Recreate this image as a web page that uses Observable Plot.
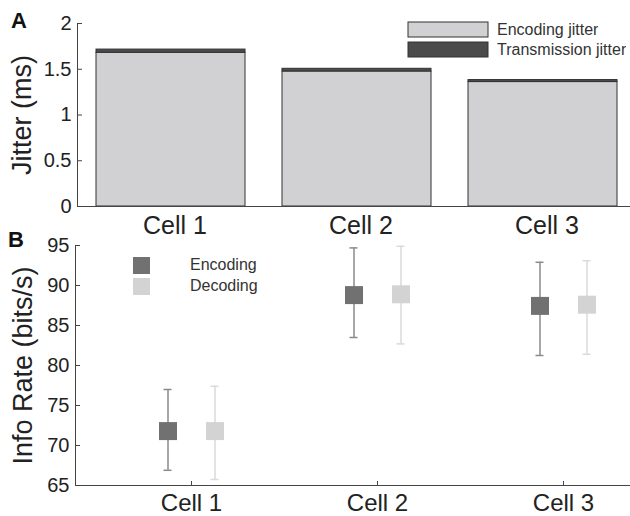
<!DOCTYPE html>
<html><head><meta charset="utf-8">
<script src="https://cdn.jsdelivr.net/npm/d3@7"></script>
<script src="https://cdn.jsdelivr.net/npm/@observablehq/plot@0.6"></script>
<style>
body{margin:0;background:#fff;}
#wrap{position:relative;width:630px;height:516px;overflow:hidden;font-family:"Liberation Sans",Arial,sans-serif;color:#222;}
.panel{position:absolute;left:0;}
.letter{position:absolute;font-weight:bold;font-size:22px;line-height:1;color:#111;}
g[aria-label="y-axis label"]{font-size:27px;}
#legA{position:absolute;left:408px;top:20px;}
#legB{position:absolute;left:133px;top:255px;}
#legA, #legA *, #legB, #legB *{font-family:"Liberation Sans",Arial,sans-serif !important;font-size:16px !important;color:#333 !important;}
#legA .lgA-swatch{line-height:19px;padding-bottom:1px;margin:0;}
#legA .lgA-swatch svg{overflow:visible;margin-right:9px;}
#legA .lgA-swatch rect{stroke:#333;stroke-width:1;}
#legB .lgB-swatch{line-height:20px;padding-bottom:1px;margin:0;}
#legB .lgB-swatch svg{margin-right:40px;}
</style></head><body>
<div id="wrap"></div>
<script>
// ---- Panel A data ----
const cells = ["Cell 1", "Cell 2", "Cell 3"];
const jitterTypes = ["Encoding jitter", "Transmission jitter"];
const encodingJitter = [1.68, 1.475, 1.36];
const transmissionJitter = [0.035, 0.03, 0.022];
const jitterTicks = [0, 0.5, 1, 1.5, 2];

// ---- Panel B data ----
const rateSeries = ["Encoding", "Decoding"];
const encMean = [71.8, 88.8, 87.45];
const encLow = [66.9, 83.5, 81.25];
const encHigh = [77.0, 94.7, 92.9];
const decMean = [71.8, 88.9, 87.6];
const decLow = [65.75, 82.7, 81.4];
const decHigh = [77.4, 94.9, 93.1];
const rateTicks = [65, 70, 75, 80, 85, 90, 95];

const font = '"Liberation Sans", Arial, sans-serif';
const axisColor = "#444";

const jitterData = cells.flatMap((c, i) => [
  {cell: c, type: jitterTypes[0], value: encodingJitter[i]},
  {cell: c, type: jitterTypes[1], value: transmissionJitter[i]}
]);

const plotA = Plot.plot({
  width: 630, height: 235,
  marginTop: 23, marginBottom: 29, marginLeft: 77, marginRight: 0,
  style: {fontFamily: font, fontSize: "20px", color: "#222", background: "transparent", overflow: "visible"},
  x: {domain: cells, range: [77, 635], paddingInner: 0.2, paddingOuter: 0.1, label: null},
  y: {domain: [0, 2], label: "Jitter (ms)", labelArrow: "none"},
  color: {domain: jitterTypes, range: ["#d1d1d3", "#4b4b4b"]},
  marks: [
    Plot.barY(jitterData, {x: "cell", y: "value", fill: "type", stroke: "#333", strokeWidth: 1}),
    Plot.frame({anchor: "left", stroke: axisColor}),
    Plot.frame({anchor: "bottom", stroke: axisColor}),
    Plot.axisY({ticks: jitterTicks, tickFormat: d => String(d), tickSize: -5, tickPadding: 11,
      label: "Jitter (ms)", labelArrow: "none", labelAnchor: "center", labelOffset: 66, stroke: axisColor}),
    Plot.axisX({tickSize: 0, tickPadding: 10, fontSize: 25, dx: 4, label: null})
  ]
});

const rateData = cells.flatMap((c, i) => [
  {cell: c, series: rateSeries[0], mean: encMean[i], lo: encLow[i], hi: encHigh[i]},
  {cell: c, series: rateSeries[1], mean: decMean[i], lo: decLow[i], hi: decHigh[i]}
]);

function seriesMarks(name, dx, barColor) {
  const d = rateData.filter(r => r.series === name);
  return [
    Plot.ruleX(d, {x: "cell", y1: "lo", y2: "hi", dx, stroke: barColor, strokeWidth: 1.5}),
    Plot.tickY(d, {x: "cell", y: "hi", dx, stroke: barColor, strokeWidth: 1.5}),
    Plot.tickY(d, {x: "cell", y: "lo", dx, stroke: barColor, strokeWidth: 1.5}),
    Plot.dot(d, {x: "cell", y: "mean", dx, fill: "series", symbol: "square", r: 10.15, stroke: null})
  ];
}

const capInner = 1 - 8 / 186;
const plotB = Plot.plot({
  width: 630, height: 281,
  marginTop: 10, marginBottom: 31, marginLeft: 75, marginRight: 0,
  style: {fontFamily: font, fontSize: "20px", color: "#222", background: "transparent", overflow: "visible"},
  x: {domain: cells, range: [98, 656], paddingInner: capInner, paddingOuter: capInner / 2, label: null},
  y: {domain: [65, 95], label: "Info Rate (bits/s)", labelArrow: "none"},
  color: {domain: rateSeries, range: ["#717171", "#d3d3d3"]},
  marks: [
    Plot.frame({anchor: "left", stroke: axisColor}),
    Plot.frame({anchor: "bottom", stroke: axisColor}),
    Plot.axisY({ticks: rateTicks, tickSize: -5, tickPadding: 11,
      label: "Info Rate (bits/s)", labelArrow: "none", labelAnchor: "center", labelOffset: 63, stroke: axisColor}),
    Plot.axisX({tickSize: -4, tickPadding: 12, fontSize: 24, label: null, stroke: axisColor}),
    ...seriesMarks(rateSeries[0], -23.5, "#8a8a8a"),
    ...seriesMarks(rateSeries[1], 23.5, "#dadada")
  ]
});

const wrap = document.getElementById("wrap");
const pa = document.createElement("div"); pa.className = "panel"; pa.style.top = "0px"; pa.appendChild(plotA);
const pb = document.createElement("div"); pb.className = "panel"; pb.style.top = "235px"; pb.appendChild(plotB);
wrap.appendChild(pa); wrap.appendChild(pb);

const legA = document.createElement("div"); legA.id = "legA";
legA.appendChild(plotA.legend("color", {legend: "swatches", columns: 1, swatchWidth: 80, swatchHeight: 15, className: "lgA"}));
wrap.appendChild(legA);
const legB = document.createElement("div"); legB.id = "legB";
legB.appendChild(plotB.legend("color", {legend: "swatches", columns: 1, swatchSize: 17, className: "lgB"}));
wrap.appendChild(legB);

const la = document.createElement("div"); la.className = "letter"; la.textContent = "A"; la.style.left = "11px"; la.style.top = "10px";
const lb = document.createElement("div"); lb.className = "letter"; lb.textContent = "B"; lb.style.left = "8px"; lb.style.top = "229px";
wrap.appendChild(la); wrap.appendChild(lb);
</script>
</body></html>
